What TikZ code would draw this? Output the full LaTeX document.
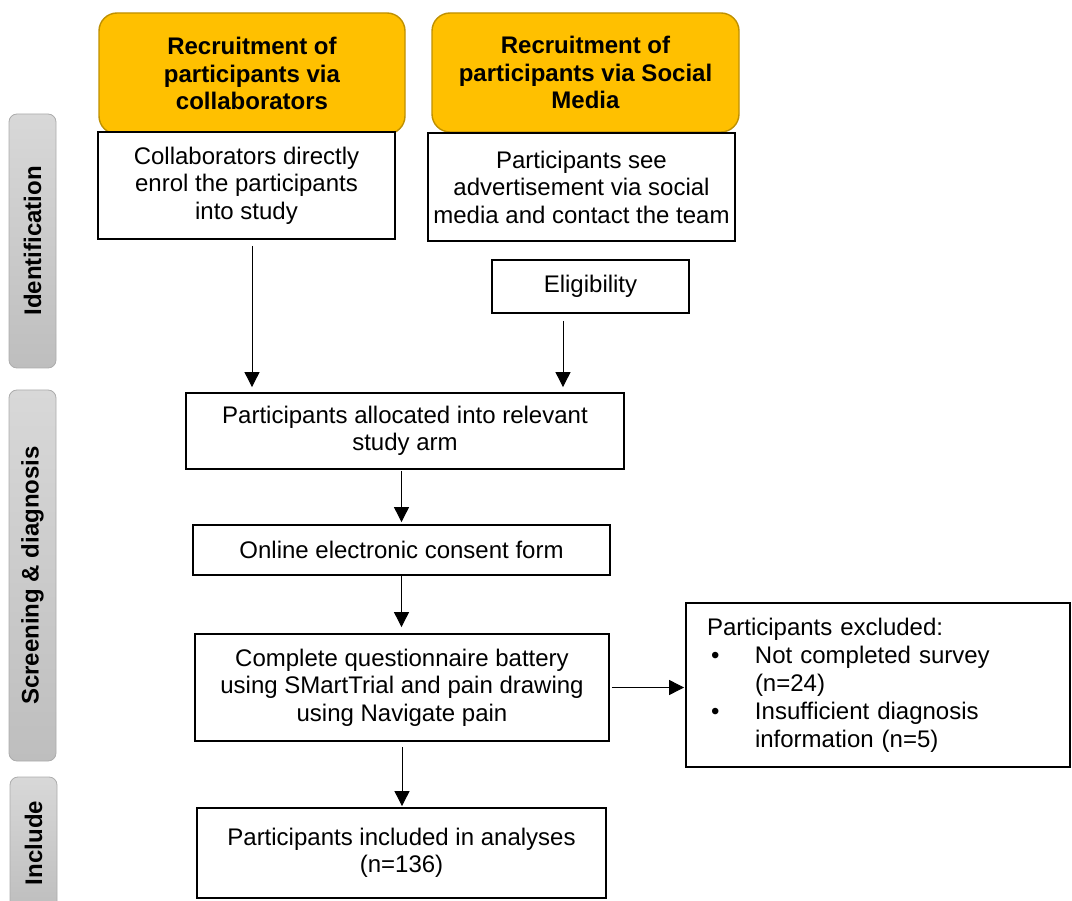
\documentclass[tikz,border=0pt]{standalone}
\usepackage{fontspec}
\setmainfont{Liberation Sans}
\usetikzlibrary{arrows.meta}
\definecolor{recruitfill}{RGB}{255,192,0}
\definecolor{recruitline}{RGB}{191,144,0}
\definecolor{phaseleft}{RGB}{216,216,216}
\definecolor{phaseright}{RGB}{190,190,190}
\definecolor{phaseline}{RGB}{172,172,172}
\tikzset{
  phasebox/.style={draw=phaseline, line width=0.8pt, rounded corners=8pt, rotate=90,
    top color=phaseleft, bottom color=phaseright, inner sep=0pt,
    font=\fontsize{24}{27.5}\selectfont\bfseries},
  recruitbox/.style={draw=recruitline, fill=recruitfill, line width=1.4pt, rounded corners=18pt,
    align=center, inner sep=0pt, font=\fontsize{24}{27.5}\selectfont\bfseries},
  stepbox/.style={draw=black, fill=white, line width=1.8pt, align=center, inner sep=0pt,
    font=\fontsize{24}{27.5}\selectfont},
  arr/.style={-{Triangle[length=15pt,width=15pt]}, line width=0.9pt}
}
\begin{document}
\begin{tikzpicture}[x=1pt,y=1pt,yscale=-1,xscale=1]
\useasboundingbox (0,0) rectangle (1072,901);

%Phase labels
\node[phasebox, minimum width=254, minimum height=47] (identification) at (32.5,241) {Identification};
\node[phasebox, minimum width=371, minimum height=47] (screening) at (32.5,575.5) {Screening \& diagnosis};
\node[phasebox, minimum width=132, minimum height=47] (include) at (33.5,843) {Include};

%Recruitment routes
\node[recruitbox, minimum width=306, minimum height=121] (recruitCollab) at (252,73.5) {Recruitment of\\participants via\\collaborators};
\node[recruitbox, minimum width=307, minimum height=119] (recruitSocial) at (585.5,72.5) {Recruitment of\\participants via Social\\Media};

%Steps
\node[stepbox, minimum width=297, minimum height=107] (enrolCollab) at (246.5,185.5) {Collaborators directly\\enrol the participants\\into study};
\node[stepbox, minimum width=307, minimum height=108] (seeAdvert) at (581.5,187) {Participants see\\advertisement via social\\media and contact the team};
\node[stepbox, minimum width=197, minimum height=53] (eligibility) at (590.5,286.5) {Eligibility};
\node[stepbox, minimum width=438, minimum height=76] (allocated) at (405,431) {Participants allocated into relevant\\study arm};
\node[stepbox, minimum width=417, minimum height=50] (consent) at (401.5,550) {Online electronic consent form};
\node[stepbox, minimum width=414, minimum height=107] (battery) at (402,687.5) {Complete questionnaire battery\\using SMartTrial and pain drawing\\using Navigate pain};
\node[stepbox, minimum width=409, minimum height=90] (included) at (401.5,853) {Participants included in analyses\\(n=136)};

%Exclusions
\node[stepbox, minimum width=384, minimum height=164, align=left, text width=342, inner xsep=21pt,
  font=\fontsize{24}{28}\selectfont] (excluded) at (878,685) {Participants excluded:\\
  \makebox[48pt][l]{\hspace{4pt}\textbullet}Not completed survey\\
  \hspace*{48pt}(n=24)\\
  \makebox[48pt][l]{\hspace{4pt}\textbullet}Insufficient diagnosis\\
  \hspace*{48pt}information (n=5)};

%Connectors
\draw[arr, shorten <=6, shorten >=5] ([xshift=5.5]enrolCollab.south) -- ([xshift=5.5]enrolCollab.south |- allocated.north);
\draw[arr, shorten <=7, shorten >=5] ([xshift=-27.5]eligibility.south) -- ([xshift=-27.5]eligibility.south |- allocated.north);
\draw[arr, shorten <=1, shorten >=2] (allocated.south -| consent.north) -- (consent.north);
\draw[arr, shorten >=6] (consent.south) -- (consent.south |- battery.north);
\draw[arr, shorten <=5, shorten >=1] (battery.south) -- (battery.south |- included.north);
\draw[arr, shorten <=2, shorten >=1] (battery.east) -- (battery.east -| excluded.west);
\end{tikzpicture}
\end{document}
